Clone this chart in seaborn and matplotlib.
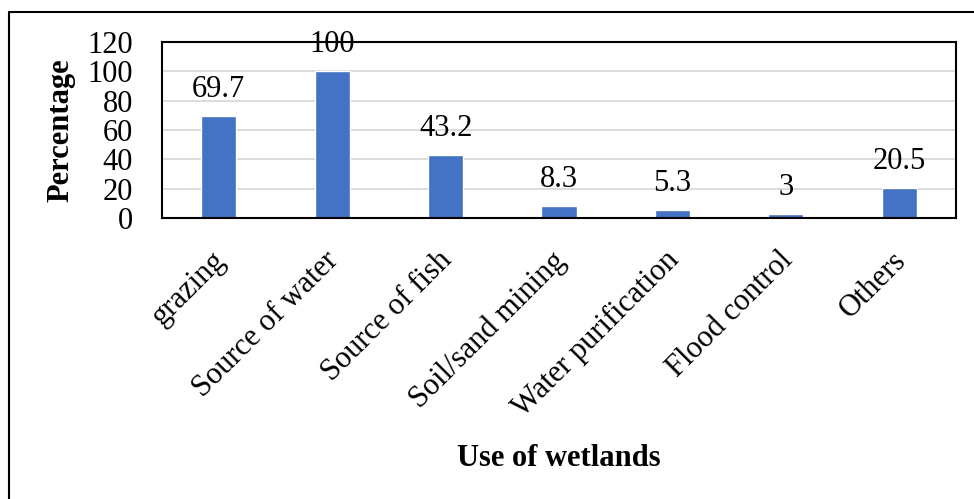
import matplotlib
matplotlib.use("Agg")
import matplotlib.pyplot as plt
import matplotlib.transforms as mtransforms
from matplotlib.lines import Line2D
import pandas as pd
import seaborn as sns

# Survey results: reported uses of wetlands (% of respondents)
categories = ["grazing", "Source of water", "Source of fish", "Soil/sand mining",
              "Water purification", "Flood control", "Others"]
percentages = [69.7, 100, 43.2, 8.3, 5.3, 3, 20.5]
value_labels = ["69.7", "100", "43.2", "8.3", "5.3", "3", "20.5"]
y_ticks = [0, 20, 40, 60, 80, 100, 120]

df = pd.DataFrame({"use": categories, "pct": percentages})

sns.set_theme(style="white")
plt.rcParams["font.family"] = ["Liberation Serif", "DejaVu Serif"]
plt.rcParams["text.color"] = "black"
plt.rcParams["axes.labelcolor"] = "black"
plt.rcParams["xtick.color"] = "black"
plt.rcParams["ytick.color"] = "black"

FS = 22

W, H = 974, 499
fig = plt.figure(figsize=(W / 100, H / 100), dpi=100)
ax = fig.add_axes([162 / W, 1 - 218 / H, (956 - 162) / W, (218 - 42) / H])

sns.barplot(data=df, x="use", y="pct", color="#4472C4", saturation=1,
            width=0.31, ax=ax, zorder=2)

ax.set_ylim(0, 120)
ax.set_xlim(-0.5, len(categories) - 0.5)
ax.set_yticks(y_ticks)
ax.set_yticklabels([str(t) for t in y_ticks], fontsize=FS)
ax.yaxis.grid(True, color="#D9D9D9", linewidth=1.3, zorder=0)
ax.set_axisbelow(True)

for side in ["left", "right", "top", "bottom"]:
    ax.spines[side].set_visible(True)
    ax.spines[side].set_color("black")
    ax.spines[side].set_linewidth(1.5)
    ax.spines[side].set_zorder(5)

ax.tick_params(axis="y", length=0, pad=21)
ax.tick_params(axis="x", length=0, pad=0)

# Value labels above each bar
for i, (v, lab) in enumerate(zip(percentages, value_labels)):
    ax.annotate(lab, xy=(i, v), xytext=(0, 13.7), textcoords="offset points",
                ha="center", va="baseline", fontsize=FS, zorder=3,
                annotation_clip=False)

# Rotated category labels
ax.set_xticks(range(len(categories)))
ax.set_xticklabels(categories, rotation=45, ha="right", va="top",
                   rotation_mode="anchor", fontsize=FS)
shift = mtransforms.ScaledTranslation(-8 / 100, -28 / 100, fig.dpi_scale_trans)
for lbl in ax.get_xticklabels():
    lbl.set_transform(lbl.get_transform() + shift)

ax.set_xlabel("Use of wetlands", fontsize=FS, fontweight="bold", va="center")
ax.xaxis.set_label_coords(0.5, -1.364)
ax.set_ylabel("Percentage", fontsize=FS, fontweight="bold", va="center")
ax.yaxis.set_label_coords(-0.127, 0.5)

# Outer frame (top and left edges)
fig.add_artist(Line2D([9 / W, 9 / W], [0, 1 - 11.5 / H], transform=fig.transFigure,
                      color="black", linewidth=1.5))
fig.add_artist(Line2D([9 / W, 1], [1 - 11.5 / H, 1 - 11.5 / H], transform=fig.transFigure,
                      color="black", linewidth=1.5))

fig.savefig("out.png", dpi=100)
